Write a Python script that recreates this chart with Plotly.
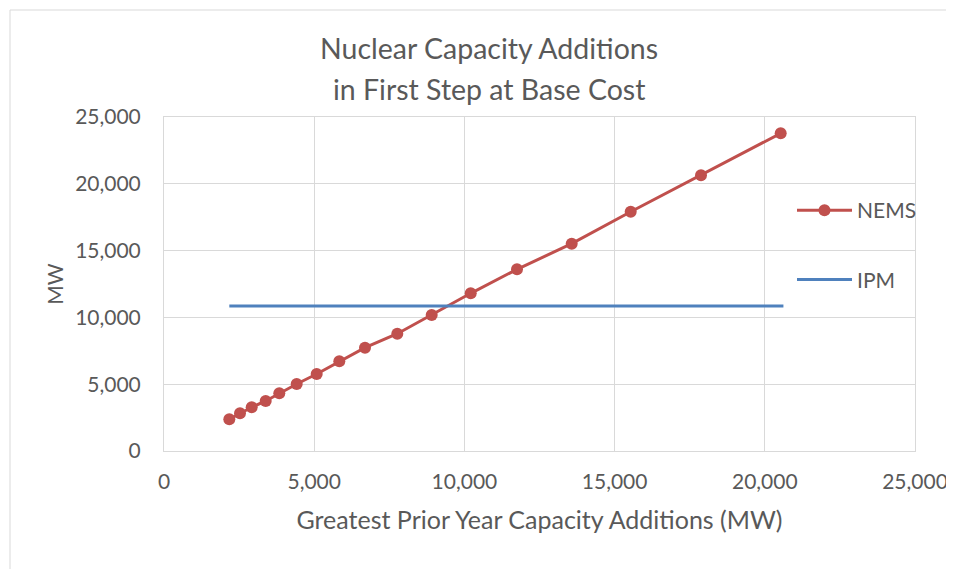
import plotly.graph_objects as go

# Data
nems_x = [2174, 2530, 2919, 3385, 3838, 4417, 5083, 5836, 6691, 7766, 8911,
          10210, 11751, 13572, 15536, 17876, 20529]
nems_y = [2373, 2822, 3271, 3743, 4319, 5015, 5763, 6714, 7732, 8780, 10180,
          11804, 13600, 15517, 17912, 20636, 23780]
ipm_x = [2174, 20620]
ipm_y = [10850, 10850]

title_lines = ["Nuclear Capacity Additions", "in First Step at Base Cost"]
x_title = "Greatest Prior Year Capacity Additions (MW)"
y_title = "MW"
tick_vals = [0, 5000, 10000, 15000, 20000, 25000]

FONT = "Lato, 'Open Sans', sans-serif"
GRAY = "#595959"
GRID = "#D9D9D9"

L, R, T, B = 156, 47, 109, 126
W, H = 954, 569
PW, PH = W - L - R, H - T - B


def px_to_paper_x(fx):
    return (fx - L) / PW


def px_to_paper_y(fy):
    return (H - B - fy) / PH


fig = go.Figure()
fig.add_trace(go.Scatter(
    x=nems_x, y=nems_y, name="NEMS", mode="lines+markers",
    line=dict(color="#C0504D", width=3),
    marker=dict(color="#C0504D", size=12),
    legendgroup="a",
))
fig.add_trace(go.Scatter(
    x=ipm_x, y=ipm_y, name="IPM", mode="lines",
    line=dict(color="#4F81BD", width=3),
    legendgroup="b",
))

fig.update_layout(
    width=W, height=H,
    paper_bgcolor="white", plot_bgcolor="white",
    margin=dict(l=L, r=R, t=T, b=B),
    font=dict(family=FONT, size=21, color=GRAY),
    showlegend=True,
    legend=dict(x=px_to_paper_x(784), xanchor="left",
                y=px_to_paper_y(182), yanchor="top",
                bgcolor="rgba(0,0,0,0)", tracegroupgap=39, itemwidth=55,
                font=dict(family=FONT, size=21, color=GRAY)),
    xaxis=dict(range=[0, 25000], tickvals=tick_vals, tickformat=",",
               showgrid=True, gridcolor=GRID, gridwidth=1,
               showline=True, linecolor=GRID, linewidth=1, mirror=True,
               zeroline=False, ticks="outside", ticklen=12,
               tickcolor="rgba(0,0,0,0)",
               tickfont=dict(size=21),
               title=dict(text=x_title, standoff=19,
                          font=dict(family=FONT, size=25, color=GRAY))),
    yaxis=dict(range=[0, 25000], tickvals=tick_vals, tickformat=",",
               showgrid=True, gridcolor=GRID, gridwidth=1,
               showline=True, linecolor=GRID, linewidth=1, mirror=True,
               zeroline=False, ticks="outside",
               ticklen=18, tickcolor="rgba(0,0,0,0)",
               tickfont=dict(size=21),
               title=dict(text=y_title, standoff=5,
                          font=dict(family=FONT, size=21, color=GRAY))),
)

# Two-line chart title
for text, fy in zip(title_lines, [40, 81]):
    fig.add_annotation(text=text, xref="paper", yref="paper",
                       x=px_to_paper_x(481), y=px_to_paper_y(fy),
                       xanchor="center", yanchor="middle", showarrow=False,
                       font=dict(family=FONT, size=28.5, color=GRAY))

# Chart-area border
fig.add_shape(type="rect", xref="paper", yref="paper",
              x0=px_to_paper_x(2), x1=px_to_paper_x(1000),
              y0=px_to_paper_y(650), y1=px_to_paper_y(2),
              line=dict(color=GRID, width=1), fillcolor="rgba(0,0,0,0)",
              layer="below")

fig.write_html("out.html")
